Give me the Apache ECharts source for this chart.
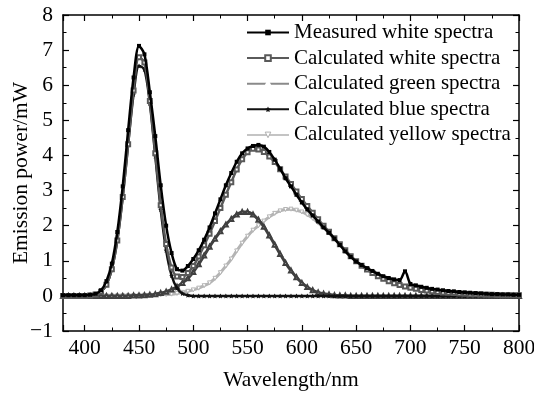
<!DOCTYPE html>
<html>
<head>
<meta charset="utf-8">
<script src="https://cdn.jsdelivr.net/npm/echarts@6/dist/echarts.min.js"></script>
<style>
  html, body { margin: 0; padding: 0; background: #fff; }
  #chart { width: 534px; height: 393px; }
</style>
</head>
<body>
<div id="chart"></div>
<script>
// Wavelength grid (nm)
const wavelength = [
  380,385,390,395,400,405,410,415,420,425,
  430,435,440,445,450,455,460,465,470,475,
  480,485,490,495,500,505,510,515,520,525,
  530,535,540,545,550,555,560,565,570,575,
  580,585,590,595,600,605,610,615,620,625,
  630,635,640,645,650,655,660,665,670,675,
  680,685,690,695,700,705,710,715,720,725,
  730,735,740,745,750,755,760,765,770,775,
  780,785,790,795,800
];

// Emission power (mW)
const measuredWhite = [
  0.02,0.02,0.02,0.02,0.02,0.03,0.06,0.16,0.42,0.92,
  1.82,3.12,4.72,6.22,7.12,6.88,5.80,4.55,3.15,2.00,
  1.22,0.76,0.72,0.85,1.05,1.30,1.60,1.95,2.35,2.75,
  3.15,3.50,3.82,4.06,4.20,4.27,4.30,4.25,4.10,3.88,
  3.62,3.35,3.12,2.88,2.66,2.46,2.29,2.12,1.95,1.80,
  1.63,1.45,1.27,1.11,0.98,0.88,0.79,0.71,0.63,0.56,
  0.51,0.47,0.45,0.70,0.34,0.30,0.26,0.23,0.20,0.18,
  0.16,0.14,0.13,0.11,0.10,0.09,0.08,0.07,0.06,0.05,
  0.05,0.04,0.04,0.03,0.03
];
const calcWhite = [
  0,0,0,0,0,0.01,0.04,0.12,0.32,0.76,
  1.58,2.82,4.32,5.85,6.80,6.65,5.55,4.06,2.58,1.48,
  0.81,0.55,0.54,0.65,0.85,1.12,1.44,1.77,2.13,2.50,
  2.88,3.24,3.60,3.89,4.09,4.19,4.17,4.10,3.97,3.81,
  3.61,3.40,3.19,2.97,2.76,2.56,2.37,2.18,2.00,1.83,
  1.64,1.47,1.30,1.13,0.99,0.86,0.75,0.65,0.56,0.49,
  0.42,0.36,0.31,0.27,0.23,0.20,0.17,0.15,0.13,0.11,
  0.10,0.09,0.08,0.07,0.06,0.05,0.045,0.04,0.035,0.03,
  0.025,0.02,0.02,0.015,0.015
];
const calcGreen = [
  0,0,0,0,0,0,0,0,0,0,
  0,0,0,0.01,0.01,0.02,0.03,0.05,0.08,0.12,
  0.18,0.26,0.37,0.50,0.68,0.90,1.15,1.40,1.63,1.84,
  2.03,2.19,2.32,2.39,2.39,2.32,2.17,1.97,1.72,1.46,
  1.19,0.94,0.72,0.53,0.37,0.25,0.16,0.10,0.06,0.04,
  0.02,0.01,0.01,0,0,0,0,0,0,0,
  0,0,0,0,0,0,0,0,0,0,
  0,0,0,0,0,0,0,0,0,0,
  0,0,0,0,0
];
const calcBlue = [
  0,0,0,0,0,0.01,0.04,0.12,0.32,0.76,
  1.58,2.81,4.31,5.74,6.55,6.45,5.48,3.98,2.46,1.30,
  0.58,0.22,0.07,0.02,0,0,0,0,0,0,
  0,0,0,0,0,0,0,0,0,0,
  0,0,0,0,0,0,0,0,0,0,
  0,0,0,0,0,0,0,0,0,0,
  0,0,0,0,0,0,0,0,0,0,
  0,0,0,0,0,0,0,0,0,0,
  0,0,0,0,0
];
const calcYellow = [
  0,0,0,0,0,0,0,0,0,0,
  0,0.005,0.008,0.01,0.013,0.017,0.02,0.026,0.033,0.04,
  0.05,0.07,0.10,0.13,0.17,0.22,0.29,0.37,0.50,0.66,
  0.85,1.05,1.28,1.50,1.70,1.87,2.00,2.13,2.25,2.35,
  2.42,2.46,2.47,2.44,2.39,2.31,2.21,2.08,1.94,1.79,
  1.62,1.46,1.29,1.13,0.99,0.86,0.75,0.65,0.56,0.49,
  0.42,0.36,0.31,0.27,0.23,0.20,0.17,0.15,0.13,0.11,
  0.10,0.09,0.08,0.07,0.06,0.05,0.045,0.04,0.035,0.03,
  0.025,0.02,0.02,0.015,0.015
];

const seriesNames = [
  'Measured white spectra',
  'Calculated white spectra',
  'Calculated green spectra',
  'Calculated blue spectra',
  'Calculated yellow spectra'
];

const FONT = '"Liberation Serif", "Times New Roman", serif';
const STAR = 'path://M0,-10 L2.9,-4 L9.5,-3.1 L4.7,1.5 L5.9,8.1 L0,5 L-5.9,8.1 L-4.7,1.5 L-9.5,-3.1 L-2.9,-4 Z';
const DOWN_TRI = 'path://M-10,-8 L10,-8 L0,10 Z';

function pairs(values) {
  return wavelength.map((w, i) => [w, values[i]]);
}

const axisLineStyle = { show: true, onZero: false, lineStyle: { color: '#000', width: 1.5 } };
const tickStyle = { show: true, inside: true, length: 6, lineStyle: { color: '#000', width: 1.2 } };
const minorStyle = { show: true, splitNumber: 2, length: 3.5, lineStyle: { color: '#000', width: 1 } };
const labelStyle = { fontFamily: FONT, fontSize: 21.5, color: '#000' };

function xAxisDef(pos, withLabels) {
  return {
    type: 'value', position: pos, min: 380, max: 800, splitNumber: 8,
    axisLine: axisLineStyle, axisTick: tickStyle, minorTick: minorStyle,
    splitLine: { show: false }, minorSplitLine: { show: false },
    axisLabel: withLabels ? Object.assign({ margin: 6, showMinLabel: false,
      formatter: v => (v % 50 === 0 ? String(v) : '') }, labelStyle) : { show: false },
    name: withLabels ? 'Wavelength/nm' : '',
    nameLocation: 'middle', nameGap: 38, nameMoveOverlap: false,
    nameTextStyle: labelStyle
  };
}
function yAxisDef(pos, withLabels) {
  return {
    type: 'value', position: pos, min: -1, max: 8, interval: 1,
    axisLine: axisLineStyle, axisTick: tickStyle, minorTick: minorStyle,
    splitLine: { show: false }, minorSplitLine: { show: false },
    axisLabel: withLabels ? Object.assign({ margin: 10,
      formatter: v => String(v).replace('-', '\u2212') }, labelStyle) : { show: false },
    name: withLabels ? 'Emission power/mW' : '',
    nameLocation: 'middle', nameGap: 31, nameMoveOverlap: false,
    nameTextStyle: labelStyle
  };
}

function lineSeries(name, values, opts) {
  return Object.assign({
    name: name, type: 'line', data: pairs(values), smooth: 0.3,
    showSymbol: true, animation: false, silent: true,
    xAxisIndex: 0, yAxisIndex: 0
  }, opts);
}

const chart = echarts.init(document.getElementById('chart'), null, { renderer: 'canvas' });
chart.setOption({
  animation: false,
  backgroundColor: '#fff',
  grid: { left: 63, right: 15, top: 15, bottom: 62, containLabel: false, outerBoundsMode: 'none' },
  legend: {
    orient: 'vertical', left: 246, top: 22, padding: 0,
    itemGap: 4.6, itemWidth: 42, itemHeight: 7,
    textStyle: { fontFamily: FONT, fontSize: 21, color: '#000', lineHeight: 20 },
    data: [
      { name: seriesNames[0] },
      { name: seriesNames[1] },
      { name: seriesNames[2], lineStyle: { color: '#8a8a8a', width: 2 }, itemStyle: { color: '#fff', borderColor: '#8a8a8a', borderWidth: 1 } },
      { name: seriesNames[3] },
      { name: seriesNames[4], lineStyle: { color: '#c4c4c4', width: 2 }, itemStyle: { color: '#fff', borderColor: '#b0b0b0', borderWidth: 1 } }
    ]
  },
  xAxis: [xAxisDef('bottom', true), xAxisDef('top', false)],
  yAxis: [yAxisDef('left', true), yAxisDef('right', false)],
  series: [
    lineSeries(seriesNames[4], calcYellow, {
      symbol: DOWN_TRI, symbolSize: 4, z: 2,
      lineStyle: { color: '#b4b4b4', width: 3 },
      itemStyle: { color: '#fff', borderColor: '#b4b4b4', borderWidth: 1 }
    }),
    lineSeries(seriesNames[2], calcGreen, {
      symbol: 'emptyTriangle', symbolSize: 4, z: 3,
      lineStyle: { color: '#404040', width: 3 },
      itemStyle: { color: '#404040', borderWidth: 1 }
    }),
    lineSeries(seriesNames[3], calcBlue, {
      symbol: STAR, symbolSize: 5, z: 4,
      lineStyle: { color: '#111', width: 2.5 },
      itemStyle: { color: '#111' }
    }),
    lineSeries(seriesNames[1], calcWhite, {
      symbol: 'emptyRect', symbolSize: 4, z: 5,
      lineStyle: { color: '#5a5a5a', width: 2.5 },
      itemStyle: { color: '#5a5a5a', borderWidth: 1 }
    }),
    lineSeries(seriesNames[0], measuredWhite, {
      symbol: 'rect', symbolSize: 4, z: 6,
      lineStyle: { color: '#000', width: 2.5 },
      itemStyle: { color: '#000' }
    })
  ]
});
</script>
</body>
</html>
